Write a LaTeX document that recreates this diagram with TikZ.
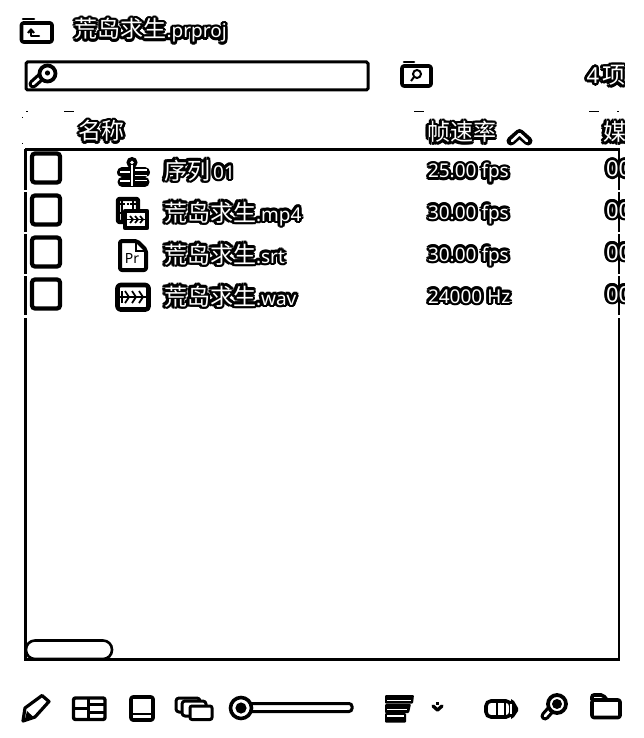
\documentclass[tikz,border=0pt]{standalone}
\usepackage{fontspec}
\setmainfont{Noto Sans}
\newfontfamily\cjkf{Noto Sans CJK SC}
\newfontfamily\latf{Noto Sans}
\newsavebox\halobox
\newcommand{\hc}[2]{\rlap{\kern#1pt\raisebox{#2pt}{\usebox\halobox}}}
\newcommand{\halo}[1]{\sbox\halobox{\color{black}#1}%
\hc{2.7}{0}\hc{-2.7}{0}\hc{0}{2.7}\hc{0}{-2.7}\hc{1.9}{1.9}\hc{-1.9}{1.9}\hc{1.9}{-1.9}\hc{-1.9}{-1.9}%
\hc{2.4}{1.1}\hc{-2.4}{1.1}\hc{2.4}{-1.1}\hc{-2.4}{-1.1}\hc{1.1}{2.4}\hc{-1.1}{2.4}\hc{1.1}{-2.4}\hc{-1.1}{-2.4}%
\hc{1}{0}\hc{-1}{0}\hc{0}{1}\hc{0}{-1}%
\textcolor{white}{#1}}
\newcommand{\cj}[1]{{\cjkf\fontsize{23}{25}\selectfont #1}}
\newcommand{\la}[1]{{\latf\fontsize{19}{22}\selectfont #1}}
\newcommand{\lb}[1]{{\latf\fontsize{22}{24}\selectfont #1}}
\tikzset{
 x=1pt,y=-1pt,
 lab/.style={anchor=base west,inner sep=0pt,outer sep=0pt},
 frame/.style={draw=black,line width=3pt,fill=white,rounded corners=1.5pt},
 icon/.style={draw=black,line width=3.6pt,line join=round,line cap=round},
 thinicon/.style={draw=black,line width=2.2pt,line join=round},
 panel/.style={draw=black,line width=2.4pt},
 speck/.style={draw=black,line width=1pt},
 check/.style={draw=black,line width=4.2pt,fill=white,rounded corners=3pt},
}
\begin{document}
\begin{tikzpicture}
\useasboundingbox (0,0) rectangle (643,738);
\fill[white] (0,0) rectangle (643,738);

% top folder
\draw[icon,fill=white,rounded corners=2pt] (21.5,42) -- (21.5,23) -- (52,23) -- (52,42) -- cycle;
\draw[icon,line width=2.6pt] (23,19) -- (34,19);
\draw[thinicon,line cap=round] (39,36) -- (31,36) -- (31,30);
\draw[thinicon] (28,33) -- (31,29.5) -- (34,33);
\node[lab] (title) at (74.5,38) {\halo{\cj{荒岛求生}\la{.prproj}}};

% search box
\draw[frame] (26,62) rectangle (368,90);
\draw[black,line width=9pt,line cap=round] (33,84) -- (43,75);
\draw[white,line width=2.6pt,line cap=round] (33,84) -- (43,75);
\draw[black,line width=3.8pt,fill=white] (47.5,73.5) circle (8);
\fill[black] (47.5,73) circle (2.6);

% folder search
\draw[icon,fill=white,rounded corners=2pt] (402,86) -- (402,66) -- (431,66) -- (431,86) -- cycle;
\draw[icon,line width=2.6pt] (404,62) -- (414,62);
\draw[black,line width=2pt] (417,74) circle (4);
\draw[black,line width=2pt] (414,77) -- (411,81);
\node[lab] (count) at (586.5,83.5) {\halo{\lb{4}}};

% stray specks
\foreach \a/\b/\c/\d in {26/112/28/112,64/112/74/112,414/112/424/112,589/112/599/112,617/112/619/112,22/117/22/118,22/143/22/144}
  \draw[speck] (\a,\b) -- (\c,\d);

% list panel
\draw[panel] (25,149.5) -- (620,149.5);
\foreach \a/\b in {149/190,192/232,234/274,276/315,318/661}
  \draw[panel,line width=3pt] (25.5,\a) -- (25.5,\b);
\foreach \a/\b in {149/190,192/232,234/274,276/315,318/661}
  \draw[panel] (619,\a) -- (619,\b);
\draw[panel,line width=3pt] (24,659.5) -- (620,659.5);
\draw[draw=black,line width=2.6pt,fill=white,rounded corners=9pt] (26,640.5) rectangle (112,659);

% headers
\node[lab] (hname) at (78.5,140) {\halo{\cj{名称}}};
\node[lab] (hrate) at (427,141) {\halo{\cj{帧速率}}};
\draw[black,line width=9pt,line cap=round,line join=round] (511,141) -- (519.5,133.5) -- (528,141);
\draw[white,line width=2.6pt,line cap=round,line join=round] (512,141) -- (519.5,134) -- (527,141);

% clipped column on the right edge
\begin{scope}
\clip (560,50) rectangle (624.5,330);
\node[lab] (hmedia) at (603,141) {\halo{\cj{媒体}}};
\node[lab] (c1) at (606,176.5) {\halo{\lb{00}}};
\node[lab] (c2) at (606,218) {\halo{\lb{00}}};
\node[lab] (c3) at (606,260) {\halo{\lb{00}}};
\node[lab] (c4) at (606,302) {\halo{\lb{00}}};
\node[lab] (count2) at (602,84) {\halo{\cj{项}}};
\end{scope}

% checkboxes
\foreach \y in {152,194,236,278}
  \draw[check] (32,\y+1.5) rectangle (60,\y+30.5);

% row 1 icon: sequence
\draw[black,line width=5.4pt] (132,162) -- (132,186);
\fill[black] (132,162.5) circle (5.6);
\fill[white] (132,162.5) circle (1.8);
\draw[black,line width=10pt,line cap=round] (122,172.5) -- (145,172.5);
\draw[black,line width=9pt,line cap=round] (122,182) -- (145,182);
\draw[white,line width=1.6pt] (120,172) -- (130,172);
\draw[white,line width=1.6pt] (135,170) -- (147,170);
\draw[white,line width=1.6pt] (135,175.5) -- (147,175.5);
\draw[white,line width=1.6pt] (120,181) -- (130,181);
\draw[white,line width=1.6pt] (135,180.5) -- (147,180.5);
\draw[white,line width=1.6pt] (132,165) -- (132,186);
\node[lab] (r1) at (164,179) {\halo{\cj{序列}\la{\,01}}};

% row 2 icon: clip
\draw[icon,line width=4.2pt,fill=white,rounded corners=1pt] (118,199) rectangle (138,222);
\draw[black,line width=1.6pt] (122,200) -- (122,221) (133,200) -- (133,210);
\draw[black,line width=1.6pt,dash pattern=on 2pt off 1.5pt] (119.5,204) -- (136,204) (119.5,213) -- (128,213);
\draw[icon,line width=4.6pt,fill=white] (125,211) rectangle (147,228);
\draw[black,line width=1.7pt] (127,219.5) -- (146,219.5);
\foreach \x in {132,137,142}
  \draw[black,line width=1.7pt] (\x-2,216) -- (\x+1,219.5) -- (\x-2,223);
\node[lab] (r2) at (164,221) {\halo{\cj{荒岛求生}\la{.mp4}}};

% row 3 icon: subtitle file
\draw[icon,line width=4pt,fill=white,rounded corners=2pt] (120,241) -- (137,241) -- (146,250) -- (146,270) -- (120,270) -- cycle;
\draw[black,line width=2.4pt] (136,241) -- (136,251) -- (146,251);
\node[inner sep=0pt] (pr) at (132,258.5) {\latf\fontsize{14}{14}\selectfont\bfseries Pr};
\node[lab] (r3) at (164,263) {\halo{\cj{荒岛求生}\la{.srt}}};

% row 4 icon: audio
\draw[icon,line width=4.6pt,fill=white,rounded corners=3pt] (117.5,285) rectangle (148.5,309.5);
\draw[black,line width=1.8pt] (120,297) -- (146,297);
\foreach \x in {128,135,142}
  \draw[black,line width=1.8pt] (\x-3,291) -- (\x+1,297) -- (\x-3,303);
\draw[black,line width=1.8pt] (122,291) -- (122,303);
\node[lab] (r4) at (164,305) {\halo{\cj{荒岛求生}\la{.wav}}};

% rate column
\node[lab] (f1) at (428,178) {\halo{\la{25.00 fps}}};
\node[lab] (f2) at (428,219) {\halo{\la{30.00 fps}}};
\node[lab] (f3) at (428,261) {\halo{\la{30.00 fps}}};
\node[lab] (f4) at (428,303) {\halo{\la{24000 Hz}}};

% pencil
\draw[icon,line width=3.2pt,fill=white] (23,721) -- (25,708) -- (42,695.5) -- (49,701.5) -- (35,717) -- cycle;
\fill[black] (24.5,721) -- (27,711) -- (33,716.5) -- cycle;

% list view icon
\draw[icon,line width=3.4pt,fill=white,rounded corners=2pt] (73.5,698) rectangle (105,719.5);
\draw[black,line width=3pt] (88,698) -- (88,719) (73,708.5) -- (88,708.5) (88,704.5) -- (105,704.5) (88,712.5) -- (105,712.5);

% free icon
\draw[icon,fill=white,rounded corners=2pt] (131,697) rectangle (153,720);
\draw[black,line width=2.8pt] (131,714) -- (153,714);

% stack icon
\draw[icon,line width=3pt,fill=white,rounded corners=3pt] (176,698) rectangle (200,712);
\draw[icon,line width=3pt,fill=white,rounded corners=3pt] (182,701) rectangle (206,716);
\draw[icon,line width=3pt,fill=white,rounded corners=2pt] (190,706) rectangle (212,719.5);

% slider
\draw[draw=black,line width=3pt,fill=white,rounded corners=3pt] (248,703.5) rectangle (352,711.5);
\draw[draw=black,line width=3.6pt,fill=white] (241,708) circle (10.5);
\fill[black] (241,708) circle (5.6);

% order icon
\fill[black,rounded corners=1pt] (385,695) -- (414,695) -- (413,703.5) -- (385,703.5) -- cycle;
\fill[black,rounded corners=1pt] (385,704) -- (411,704) -- (409,713) -- (385,713) -- cycle;
\fill[black,rounded corners=1pt] (385,713) -- (406,713) -- (406,722.5) -- (385,722.5) -- cycle;
\draw[white,line width=1.2pt] (387,700.5) -- (410.5,700.5) (387,709.5) -- (407,709.5) (387,716) -- (404,716);

% small chevron
\draw[black,line width=3.4pt,line cap=round,line join=round] (433,706) -- (437.5,710) -- (442,706);
\draw[black,line width=2.4pt] (436,703.5) -- (439,703.5);

% toggle icon
\draw[draw=black,line width=3.6pt,fill=white,rounded corners=5pt] (486,701) rectangle (511,717);
\draw[black,line width=2.8pt] (497,701) -- (497,717) (505,701) -- (505,717);
\fill[black] (511,699) -- (514,701) -- (518,708) -- (518,711) -- (514,717) -- (511,719) -- cycle;
\fill[white] (510.2,704) rectangle (512,714);

% bottom magnifier
\draw[black,line width=9pt,line cap=round] (545,716) -- (553,707);
\draw[white,line width=2.6pt,line cap=round] (545,716) -- (553,707);
\draw[black,line width=3.8pt,fill=white] (557,704) circle (9);
\fill[black] (557,704) circle (5);

% bottom folder
\draw[icon,fill=white,rounded corners=2pt] (592,717.5) -- (592,700) -- (620,700) -- (620,717.5) -- cycle;
\draw[black,line width=3.6pt,rounded corners=2pt] (592,700) -- (592,695) -- (603,695) -- (607,700);
\end{tikzpicture}
\end{document}
